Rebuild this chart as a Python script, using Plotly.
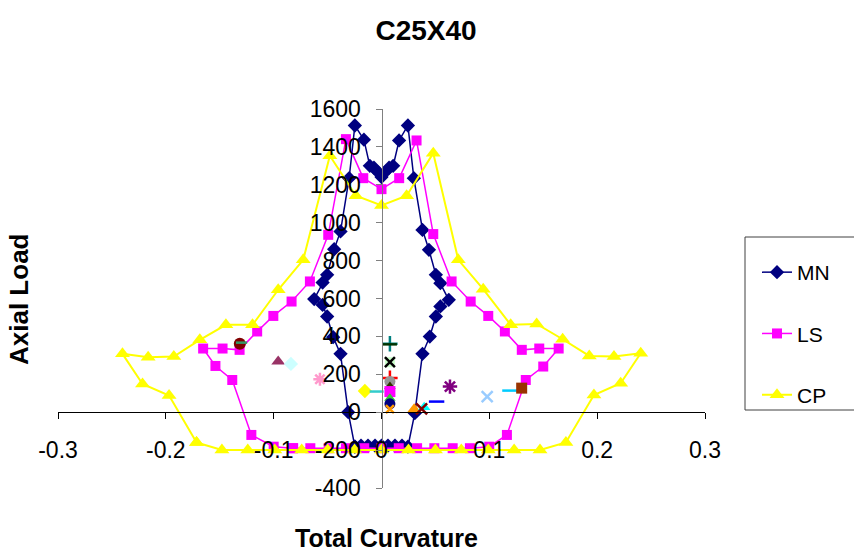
import plotly.graph_objects as go

# ---------------- data ----------------
mn_x = [-0.0247, -0.0309, -0.038, -0.0448, -0.0504, -0.0546, -0.0624, -0.0546, -0.0504, -0.0439,
        -0.038, -0.030, -0.0247, -0.0163, -0.0108, -0.007, -0.0038, 0.0,
        0.0038, 0.007, 0.0108, 0.0163, 0.0245, 0.030, 0.038, 0.044, 0.0504, 0.0546, 0.0624,
        0.0546, 0.0504, 0.0448, 0.038, 0.0309, 0.0245,
        0.019, 0.0125, 0.006, 0.0, -0.006, -0.0125, -0.019, -0.0247]
mn_y = [-182, 0, 308, 396, 505, 566, 597, 684, 725, 860,
        954, 1235, 1513, 1438, 1300, 1290, 1270, 1241,
        1270, 1290, 1300, 1434, 1513, 1235, 962, 857, 725, 681, 593,
        558, 505, 399, 308, -5, -182,
        -176, -176, -176, -176, -176, -176, -176, -182]

ls_x = [-0.082, -0.100, -0.1207, -0.1384, -0.154, -0.1654, -0.1474, -0.1316, -0.1153, -0.1003,
        -0.0834, -0.0664, -0.0494, -0.0330, -0.0169, 0.0, 0.0164, 0.0325, 0.048, 0.065,
        0.0827, 0.099, 0.1144, 0.1301, 0.1463, 0.1643, 0.150, 0.1338, 0.1163, 0.0999,
        0.082, 0.066, 0.049, 0.033, 0.016, 0.0, -0.016, -0.033, -0.049, -0.066, -0.082]
ls_y = [-190, -182, -120, 170, 244, 336, 336, 329, 426, 508,
        584, 690, 936, 1441, 1235, 1177, 1235, 1434, 940, 690,
        584, 508, 426, 329, 336, 336, 241, 170, -120, -182,
        -190, -190, -190, -190, -190, -190, -190, -190, -190, -190, -190]

cp_x = [-0.1715, -0.197, -0.2216, -0.2402, -0.2164, -0.1926, -0.1685, -0.1443, -0.1196, -0.0958,
        -0.0726, -0.0479, -0.0237, 0.0, 0.0233, 0.048, 0.0712, 0.0943, 0.1198, 0.1439,
        0.168, 0.1927, 0.2156, 0.2404, 0.2218, 0.197, 0.171,
        0.147, 0.123, 0.099, 0.074, 0.050, 0.025, 0.0, -0.025, -0.050, -0.074, -0.099, -0.124, -0.148, -0.1715]
cp_y = [-160, 88, 149, 308, 290, 294, 382, 461, 461, 646,
        804, 1353, 1142, 1091, 1142, 1367, 804, 649, 461, 466,
        385, 297, 294, 311, 153, 91, -160,
        -199, -199, -199, -199, -199, -199, -199, -199, -199, -199, -199, -199, -199, -160]

# single extra points (no legend entries)
extra_x = [-0.1314, -0.1298, -0.0958, -0.084, -0.0571, -0.0154, -0.0045,
           0.0078, 0.0078, 0.0078, 0.0078, 0.0078, 0.0078, 0.0078, 0.0078, 0.0078, 0.0078, 0.0078,
           0.0303, 0.0396, 0.0372, 0.0511, 0.0635, 0.098, 0.1191, 0.130]
extra_y = [361, 367, 267, 255, 174, 112, 109,
           361, 358, 264, 180, 162, 135, 109, 74, 44, 16, 264,
           16, 26, 17, 56, 135, 82, 114, 127]
extra_symbol = ["circle", "line-ew", "triangle-up", "diamond", "asterisk", "diamond", "line-ew",
                "cross-thin", "line-ew", "square", "cross-thin", "circle", "triangle-up", "square",
                "triangle-up", "circle", "x-thin", "x-thin",
                "triangle-up", "triangle-up", "x-thin", "line-ew", "asterisk", "x-thin", "line-ew", "square"]
extra_color = ["#800000", "#339966", "#993366", "#CCFFFF", "#FF99CC", "#FFFF00", "#33CCCC",
               "#008080", "#003300", "#CCFFCC", "#FF0000", "#969696", "#333300", "#FF00FF",
               "#33CC33", "#000080", "#FF9900", "#000000",
               "#FF9900", "#00FFFF", "#800000", "#0000FF", "#800080", "#99CCFF", "#00CCFF", "#993300"]
extra_size = [12, 8, 12, 11, 11, 11, 10,
              11, 10, 10, 11, 11, 10, 11, 10, 11, 8, 10,
              12, 11, 11, 11, 12, 11, 11, 11]

x_ticks = [-0.3, -0.2, -0.1, 0, 0.1, 0.2, 0.3]
x_ticktext = ["-0.3", "-0.2", "-0.1", "0", "0.1", "0.2", "0.3"]
y_ticks = [-400, -200, 0, 200, 400, 600, 800, 1000, 1200, 1400, 1600]
y_ticktext = ["-400", "-200", "0", "200", "400", "600", "800", "1000", "1200", "1400", "1600"]

# ---------------- figure ----------------
W, H = 854, 551
ML, MR, MT, MB = 58, 149, 109, 63
pw, ph = W - ML - MR, H - MT - MB


def px_x(p):
    return (p - ML) / pw


def px_y(p):
    return (H - MB - p) / ph


fig = go.Figure()

fig.add_trace(go.Scatter(x=mn_x, y=mn_y, mode="lines+markers", name="MN", legendgroup="a",
                         line=dict(color="#000080", width=1.5),
                         marker=dict(symbol="diamond", size=11, color="#000080")))
fig.add_trace(go.Scatter(x=ls_x, y=ls_y, mode="lines+markers", name="LS", legendgroup="b",
                         line=dict(color="#FF00FF", width=1.5),
                         marker=dict(symbol="square", size=10, color="#FF00FF")))
fig.add_trace(go.Scatter(x=cp_x, y=cp_y, mode="lines+markers", name="CP", legendgroup="c",
                         line=dict(color="#FFFF00", width=2),
                         marker=dict(symbol="triangle-up", size=13, color="#FFFF00")))

for xv, yv, s, c, sz in zip(extra_x, extra_y, extra_symbol, extra_color, extra_size):
    open_sym = s in ("line-ew", "cross-thin", "x-thin", "asterisk")
    fig.add_trace(go.Scatter(
        x=[xv], y=[yv], mode="markers", showlegend=False,
        marker=dict(symbol=s, size=sz, color=c,
                    line=dict(color=c, width=2.5 if open_sym else 0))))

fig.update_layout(
    width=W, height=H,
    paper_bgcolor="white", plot_bgcolor="white",
    margin=dict(l=ML, r=MR, t=MT, b=MB),
    font=dict(family="Liberation Sans, Arial, sans-serif", color="black"),
    title=dict(text="<b>C25X40</b>", x=426 / W, xref="container", xanchor="center",
               y=1 - 30 / H, yref="container", yanchor="middle", font=dict(size=28)),
    showlegend=True,
    legend=dict(x=px_x(757), y=px_y(252), xanchor="left", yanchor="top",
                borderwidth=0, bgcolor="rgba(0,0,0,0)",
                font=dict(size=21), tracegroupgap=31),
    xaxis=dict(range=[-0.3, 0.3], tickvals=x_ticks, ticktext=x_ticktext,
               anchor="free", position=0.2,
               showgrid=False, zeroline=False, showline=True, linecolor="black", linewidth=1,
               ticks="outside", ticklen=6, tickcolor="black",
               tickfont=dict(size=23), ticklabelstandoff=11),
    yaxis=dict(range=[-400, 1600], tickvals=y_ticks, ticktext=y_ticktext,
               anchor="free", position=0.5,
               showgrid=False, zeroline=False, showline=True, linecolor="#808080", linewidth=1,
               ticks="outside", ticklen=6, tickcolor="#808080",
               tickfont=dict(size=23), ticklabelstandoff=10),
    shapes=[dict(type="rect", xref="paper", yref="paper",
                 x0=px_x(745), x1=px_x(870), y0=px_y(410), y1=px_y(237),
                 line=dict(color="#404040", width=1), fillcolor="white", layer="below")],
    annotations=[
        dict(text="<b>Total Curvature</b>", x=px_x(386), y=px_y(538), xref="paper", yref="paper",
             xanchor="center", yanchor="middle", showarrow=False, font=dict(size=25)),
        dict(text="<b>Axial Load</b>", x=px_x(19), y=px_y(300), xref="paper", yref="paper",
             xanchor="center", yanchor="middle", showarrow=False, font=dict(size=26), textangle=-90),
    ],
)

fig.write_html("out.html", config={"displayModeBar": False},
               post_script="document.body.style.margin='0px';")
